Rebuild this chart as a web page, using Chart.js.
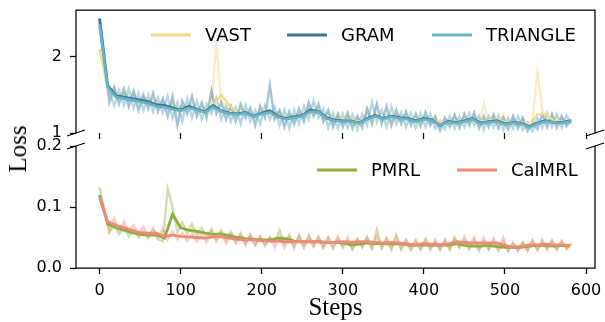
<!DOCTYPE html>
<html>
<head>
<meta charset="utf-8">
<script src="https://cdn.jsdelivr.net/npm/chart.js@4.4.1/dist/chart.umd.min.js"></script>
<style>
  html, body { margin:0; padding:0; background:#fff; }
  #wrap { position:relative; width:605px; height:322px; overflow:hidden; }
  #cTop { position:absolute; left:0; top:0; }
  #cBot { position:absolute; left:0; top:126px; }
  #ylab { position:absolute; left:18px; top:149px; transform:translate(-50%,-50%) rotate(-90deg);
          font-family:"Liberation Serif", serif; font-size:25px; color:#000; white-space:nowrap; }
</style>
</head>
<body>
<div id="wrap">
  <canvas id="cTop" width="605" height="150"></canvas>
  <canvas id="cBot" width="605" height="196"></canvas>
  <div id="ylab">Loss</div>
</div>
<script>
// ---------- data ----------
const rawSteps = [0,6,12,18,24,30,36,42,48,54,60,66,72,78,84,90,96,102,108,114,120,126,132,138,144,150,156,162,168,174,180,186,192,198,204,210,216,222,228,234,240,246,252,258,264,270,276,282,288,294,300,306,312,318,324,330,336,342,348,354,360,366,372,378,384,390,396,402,408,414,420,426,432,438,444,450,456,462,468,474,480,486,492,498,504,510,516,522,528,534,540,546,552,558,564,570,576,582];
const smoothSteps = [0,10,20,30,40,50,60,70,80,90,100,110,120,130,140,150,160,170,180,190,200,210,220,230,240,250,260,270,280,290,300,310,320,330,340,350,360,370,380,390,400,410,420,430,440,450,460,470,480,490,500,510,520,530,540,550,560,570,580];
const xTickValues = [0,100,200,300,400,500,600];
const topYTicks = [1,2];
const botYTicks = [0,0.1,0.2];

const vastRaw = [2.10,1.85,1.52,1.58,1.45,1.52,1.42,1.50,1.40,1.48,1.37,1.45,1.36,1.42,1.32,1.40,1.28,1.36,1.30,1.38,1.28,1.34,1.26,1.36,2.20,1.42,1.30,1.34,1.22,1.30,1.24,1.27,1.20,1.30,1.24,1.31,1.20,1.28,1.17,1.24,1.18,1.26,1.20,1.34,1.24,1.32,1.20,1.26,1.14,1.22,1.14,1.22,1.12,1.20,1.13,1.26,1.18,1.26,1.16,1.24,1.17,1.25,1.16,1.22,1.15,1.21,1.14,1.22,1.14,1.19,1.10,1.18,1.12,1.20,1.12,1.21,1.14,1.22,1.12,1.38,1.13,1.20,1.12,1.24,1.11,1.18,1.10,1.17,1.08,1.14,1.80,1.30,1.16,1.21,1.12,1.19,1.12,1.17];
const gramRaw = [2.48,1.92,1.40,1.60,1.38,1.58,1.35,1.55,1.30,1.50,1.32,1.52,1.28,1.45,1.22,1.48,1.10,1.42,1.25,1.48,1.22,1.40,1.20,1.55,1.25,1.40,1.18,1.35,1.15,1.38,1.20,1.33,1.10,1.35,1.20,1.62,1.18,1.30,1.08,1.28,1.12,1.32,1.15,1.40,1.22,1.38,1.15,1.30,1.08,1.25,1.08,1.26,1.06,1.22,1.07,1.32,1.12,1.38,1.12,1.35,1.10,1.30,1.12,1.28,1.10,1.25,1.09,1.27,1.10,1.22,1.03,1.20,1.08,1.24,1.07,1.25,1.10,1.27,1.06,1.22,1.08,1.24,1.06,1.20,1.05,1.22,1.06,1.20,1.02,1.16,1.05,1.24,1.08,1.25,1.07,1.22,1.09,1.18];
const triRaw = [2.40,1.85,1.55,1.36,1.56,1.36,1.58,1.33,1.52,1.30,1.50,1.28,1.46,1.26,1.48,1.20,1.40,1.15,1.45,1.20,1.42,1.18,1.38,1.25,1.45,1.18,1.36,1.15,1.33,1.12,1.36,1.15,1.30,1.12,1.36,1.18,1.34,1.10,1.30,1.06,1.30,1.12,1.35,1.18,1.42,1.20,1.32,1.07,1.26,1.06,1.25,1.07,1.24,1.05,1.25,1.10,1.40,1.14,1.30,1.08,1.34,1.12,1.27,1.08,1.26,1.07,1.26,1.08,1.25,1.06,1.16,1.05,1.22,1.06,1.22,1.08,1.26,1.10,1.22,1.04,1.22,1.07,1.23,1.04,1.20,1.06,1.22,1.04,1.14,1.02,1.20,1.07,1.26,1.08,1.24,1.07,1.23,1.12];

const vastSmooth = [2.10,1.58,1.50,1.46,1.44,1.42,1.40,1.38,1.36,1.33,1.31,1.33,1.31,1.29,1.36,1.50,1.36,1.26,1.26,1.23,1.25,1.27,1.22,1.20,1.21,1.22,1.27,1.27,1.21,1.18,1.17,1.17,1.15,1.18,1.21,1.19,1.21,1.20,1.19,1.17,1.18,1.17,1.13,1.15,1.15,1.16,1.18,1.15,1.16,1.18,1.14,1.14,1.14,1.10,1.24,1.25,1.16,1.15,1.16];
const gramSmooth = [2.50,1.62,1.49,1.47,1.45,1.43,1.41,1.37,1.36,1.33,1.30,1.35,1.31,1.28,1.36,1.29,1.26,1.25,1.27,1.22,1.26,1.29,1.22,1.19,1.21,1.23,1.30,1.28,1.20,1.17,1.16,1.16,1.13,1.19,1.23,1.19,1.22,1.20,1.19,1.16,1.19,1.17,1.10,1.15,1.14,1.16,1.19,1.13,1.15,1.16,1.12,1.14,1.13,1.08,1.13,1.16,1.14,1.14,1.16];
const triSmooth = [2.42,1.60,1.47,1.45,1.43,1.41,1.39,1.35,1.34,1.31,1.29,1.33,1.30,1.27,1.34,1.28,1.25,1.24,1.26,1.21,1.25,1.27,1.21,1.18,1.20,1.22,1.28,1.27,1.19,1.16,1.15,1.15,1.13,1.18,1.22,1.18,1.21,1.19,1.18,1.15,1.18,1.16,1.10,1.14,1.13,1.15,1.18,1.12,1.14,1.15,1.11,1.13,1.12,1.07,1.12,1.15,1.14,1.13,1.15];

const pmrlRaw = [0.132,0.095,0.058,0.072,0.055,0.068,0.052,0.062,0.050,0.060,0.048,0.062,0.047,0.044,0.130,0.100,0.058,0.075,0.055,0.072,0.052,0.066,0.050,0.064,0.048,0.062,0.046,0.060,0.044,0.057,0.040,0.055,0.038,0.052,0.039,0.050,0.042,0.062,0.040,0.054,0.036,0.052,0.034,0.054,0.036,0.050,0.034,0.050,0.032,0.048,0.036,0.045,0.030,0.047,0.034,0.050,0.032,0.063,0.034,0.048,0.030,0.055,0.032,0.045,0.030,0.044,0.031,0.046,0.032,0.043,0.030,0.045,0.030,0.048,0.034,0.046,0.030,0.045,0.028,0.044,0.030,0.044,0.028,0.043,0.028,0.040,0.030,0.042,0.028,0.044,0.030,0.042,0.032,0.044,0.030,0.043,0.032,0.040];
const calRaw = [0.118,0.090,0.062,0.082,0.062,0.076,0.060,0.070,0.055,0.068,0.052,0.066,0.050,0.064,0.046,0.060,0.047,0.058,0.044,0.057,0.043,0.056,0.042,0.060,0.043,0.058,0.040,0.055,0.040,0.054,0.038,0.053,0.037,0.052,0.036,0.050,0.034,0.052,0.033,0.050,0.032,0.055,0.034,0.050,0.035,0.052,0.033,0.050,0.034,0.052,0.033,0.050,0.032,0.048,0.035,0.051,0.033,0.052,0.032,0.049,0.033,0.050,0.030,0.047,0.031,0.046,0.030,0.048,0.030,0.046,0.030,0.047,0.032,0.050,0.034,0.052,0.033,0.050,0.032,0.050,0.031,0.049,0.032,0.050,0.028,0.042,0.027,0.042,0.029,0.046,0.030,0.046,0.030,0.046,0.031,0.045,0.031,0.040];
const pmrlSmooth = [0.120,0.072,0.066,0.062,0.058,0.055,0.054,0.054,0.049,0.088,0.066,0.062,0.060,0.057,0.055,0.056,0.053,0.050,0.048,0.047,0.046,0.046,0.049,0.048,0.044,0.043,0.043,0.043,0.042,0.042,0.041,0.038,0.039,0.041,0.040,0.040,0.039,0.040,0.038,0.037,0.038,0.037,0.038,0.037,0.040,0.037,0.036,0.036,0.037,0.035,0.034,0.034,0.034,0.036,0.037,0.037,0.036,0.037,0.036];
const calSmooth = [0.115,0.076,0.070,0.066,0.062,0.058,0.057,0.057,0.052,0.054,0.052,0.051,0.050,0.049,0.051,0.051,0.049,0.047,0.046,0.046,0.045,0.044,0.044,0.043,0.043,0.043,0.044,0.043,0.042,0.042,0.043,0.042,0.043,0.043,0.042,0.041,0.042,0.041,0.039,0.038,0.040,0.039,0.038,0.039,0.043,0.042,0.041,0.041,0.041,0.041,0.037,0.034,0.035,0.038,0.038,0.039,0.038,0.038,0.037];

// ---------- helpers ----------
const pts = (xs, ys) => xs.map((x, i) => ({x: x, y: ys[i]}));
const C = {
  vast: '#f7d98c', gram: '#3b7896', tri: '#67b3ca', pmrl: '#8fac3c', cal: '#ee8a78'
};
function rgba(hex, a) {
  const n = parseInt(hex.slice(1), 16);
  return `rgba(${(n>>16)&255},${(n>>8)&255},${n&255},${a})`;
}
function rawSet(xs, ys, col, a, order) {
  return {label:'', data: pts(xs, ys), borderColor: rgba(col, a), borderWidth: 2.4,
          pointRadius: 0, tension: 0, order: order};
}
function smoothSet(label, xs, ys, col, order, w) {
  return {label: label, data: pts(xs, ys), borderColor: col, borderWidth: w || 2.6,
          pointRadius: 0, tension: 0, order: order};
}

const TICK_FONT = {family: "'DejaVu Sans', sans-serif", size: 16};

const framePlugin = {
  id: 'frame',
  afterDraw(chart, args, opts) {
    const ctx = chart.ctx;
    const {left, right, top, bottom} = chart.chartArea;
    ctx.save();
    ctx.strokeStyle = '#000';
    ctx.lineWidth = 1.25;
    ctx.lineCap = 'butt';
    ctx.beginPath();
    if (opts.upper) {
      ctx.moveTo(left, bottom); ctx.lineTo(left, top); ctx.lineTo(right, top); ctx.lineTo(right, bottom);
    } else {
      ctx.moveTo(left, top); ctx.lineTo(left, bottom); ctx.lineTo(right, bottom); ctx.lineTo(right, top);
    }
    ctx.stroke();
    const y = opts.upper ? bottom : top;
    ctx.beginPath();
    [left, right].forEach(x => { ctx.moveTo(x - 9, y + 3); ctx.lineTo(x + 9, y - 3); });
    ctx.stroke();
    if (opts.legend) {
      ctx.font = "18px 'DejaVu Sans', sans-serif";
      ctx.textBaseline = 'middle';
      ctx.fillStyle = '#000';
      opts.legend.forEach(item => {
        ctx.strokeStyle = item.color;
        ctx.lineWidth = 3;
        ctx.beginPath();
        ctx.moveTo(item.x, item.y); ctx.lineTo(item.x + 40, item.y);
        ctx.stroke();
        ctx.fillText(item.text, item.x + 54, item.y + 1);
      });
    }
    ctx.restore();
  }
};

function xScale(showLabels) {
  return {
    type: 'linear', min: -29.1, max: 611.1,
    afterBuildTicks: s => { s.ticks = xTickValues.map(v => ({value: v})); },
    afterFit: s => { s.height = showLabels ? 54 : 7; s.paddingLeft = 0; s.paddingRight = 0; },
    border: {display: false},
    grid: {display: true, drawOnChartArea: false, drawTicks: true, tickLength: 6, tickColor: '#000', tickWidth: 1.25},
    ticks: {display: showLabels, color: '#000', font: TICK_FONT, padding: 7, maxRotation: 0,
            callback: v => String(v)},
    title: showLabels ? {display: true, text: 'Steps', color: '#000',
            font: {family: "'Liberation Serif', serif", size: 25}, padding: {top: 0, bottom: -1}} : {display: false}
  };
}
function yScale(min, max, tickVals, dec) {
  return {
    type: 'linear', min: min, max: max,
    afterBuildTicks: s => { s.ticks = tickVals.map(v => ({value: v})); },
    afterFit: s => { s.width = 76; s.paddingTop = 0; s.paddingBottom = 0; },
    border: {display: false},
    grid: {display: true, drawOnChartArea: false, drawTicks: true, tickLength: 6, tickColor: '#000', tickWidth: 1.25},
    ticks: {color: '#000', font: TICK_FONT, padding: 8, callback: v => Number(v).toFixed(dec)}
  };
}

Chart.defaults.animation = false;

new Chart(document.getElementById('cTop'), {
  type: 'line',
  data: {
    datasets: [
      smoothSet('TRIANGLE', smoothSteps, triSmooth, C.tri, 0, 2.6),
      smoothSet('GRAM', smoothSteps, gramSmooth, C.gram, 1, 2.8),
      smoothSet('VAST', smoothSteps, vastSmooth, C.vast, 2, 2.4),
      rawSet(rawSteps, triRaw, C.tri, 0.5, 3),
      rawSet(rawSteps, gramRaw, C.gram, 0.45, 4),
      rawSet(rawSteps, vastRaw, C.vast, 0.5, 5)
    ]
  },
  options: {
    responsive: false, devicePixelRatio: 1,
    layout: {padding: {left: 0, right: 10, top: 10, bottom: 10}},
    plugins: {
      legend: {display: false}, tooltip: {enabled: false},
      frame: {upper: true, legend: [
        {text: 'VAST', color: C.vast, x: 151, y: 35},
        {text: 'GRAM', color: C.gram, x: 287, y: 35},
        {text: 'TRIANGLE', color: C.tri, x: 432, y: 35}
      ]}
    },
    scales: {
      x: xScale(false),
      y: yScale(1, 2.61, topYTicks, 0)
    }
  },
  plugins: [framePlugin]
});

new Chart(document.getElementById('cBot'), {
  type: 'line',
  data: {
    datasets: [
      smoothSet('CalMRL', smoothSteps, calSmooth, C.cal, 0, 2.8),
      smoothSet('PMRL', smoothSteps, pmrlSmooth, C.pmrl, 1, 2.8),
      rawSet(rawSteps, calRaw, C.cal, 0.4, 2),
      rawSet(rawSteps, pmrlRaw, C.pmrl, 0.4, 3)
    ]
  },
  options: {
    responsive: false, devicePixelRatio: 1,
    layout: {padding: {left: 0, right: 10, top: 20, bottom: 0}},
    plugins: {
      legend: {display: false}, tooltip: {enabled: false},
      frame: {upper: false, legend: [
        {text: 'PMRL', color: C.pmrl, x: 317, y: 44},
        {text: 'CalMRL', color: C.cal, x: 457, y: 44}
      ]}
    },
    scales: {
      x: xScale(true),
      y: yScale(0, 0.2, botYTicks, 1)
    }
  },
  plugins: [framePlugin]
});
</script>
</body>
</html>
